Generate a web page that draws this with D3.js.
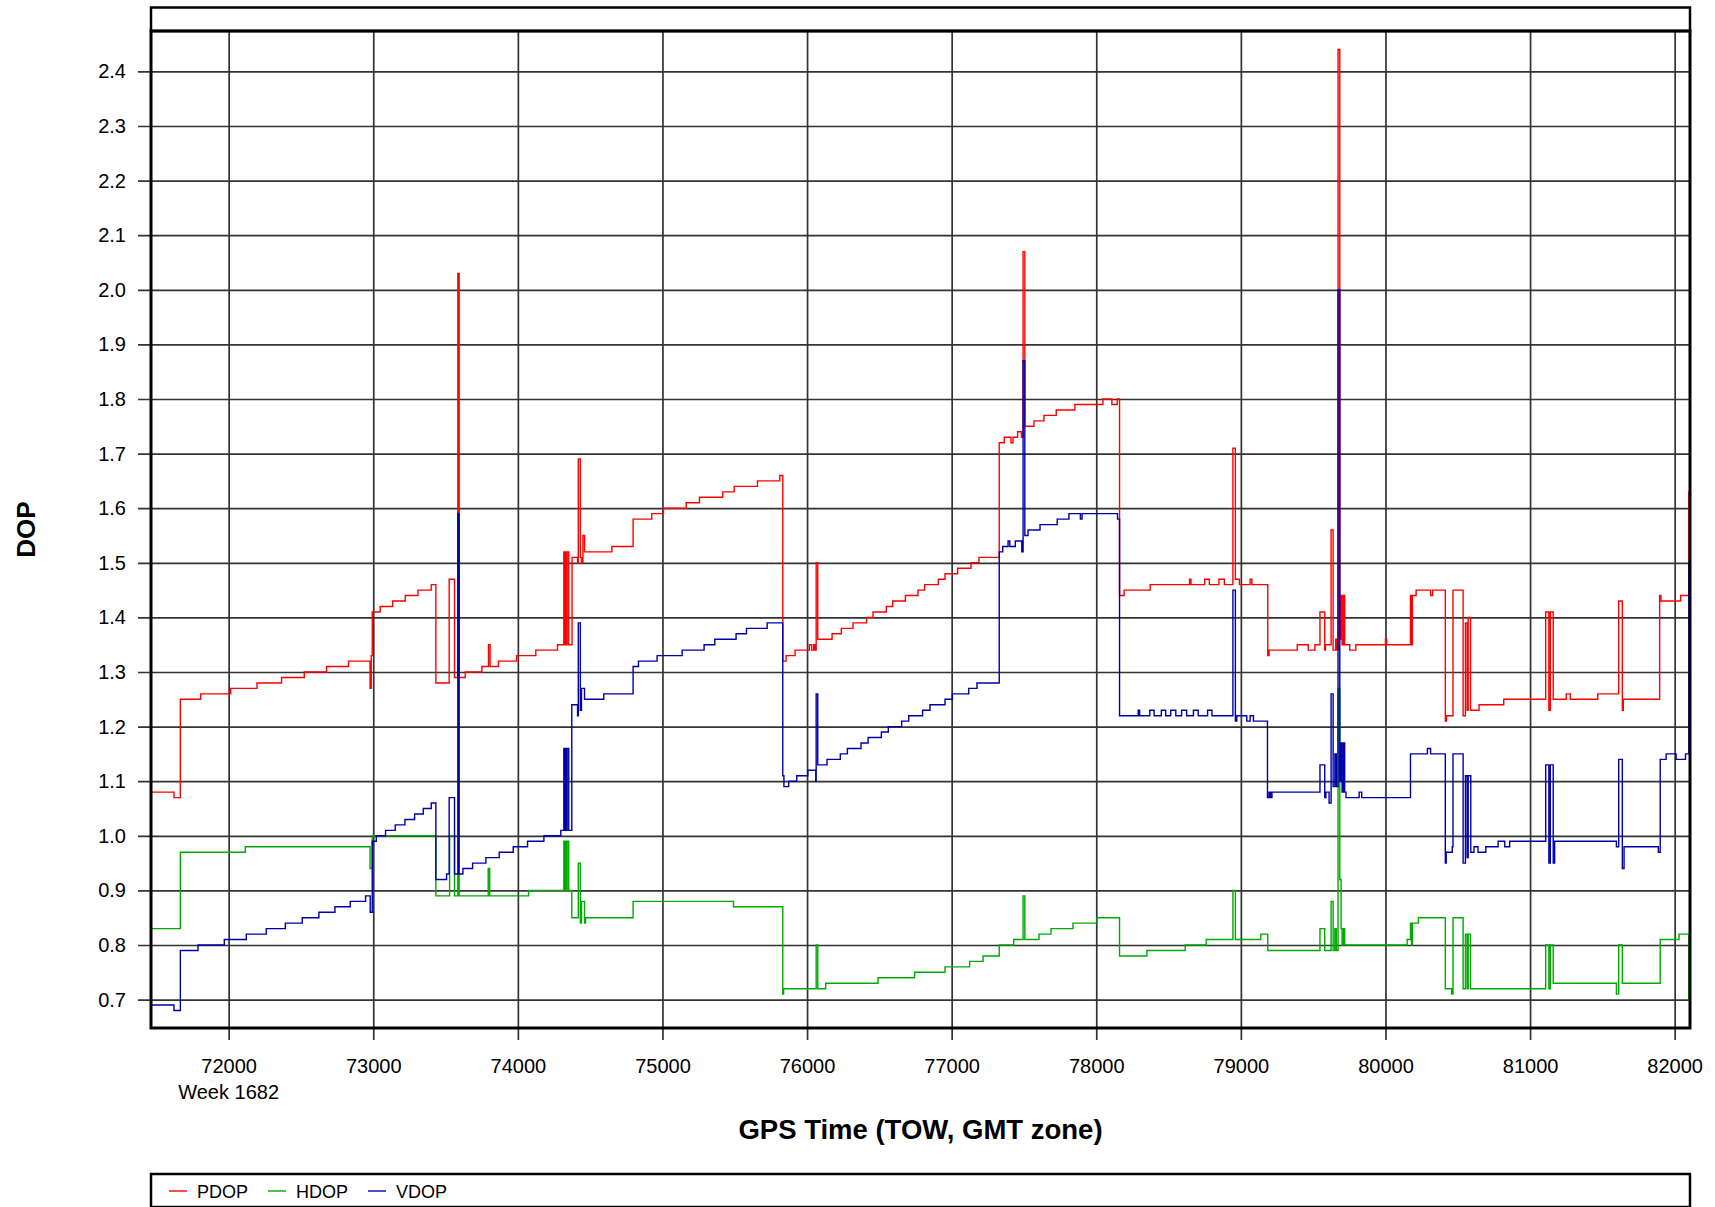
<!DOCTYPE html>
<html><head><meta charset="utf-8">
<script src="https://cdn.jsdelivr.net/npm/d3@7"></script>
<style>
html,body{margin:0;padding:0;background:#fff;}
svg{display:block;font-family:"Liberation Sans",Arial,sans-serif;}
</style></head>
<body><svg id="chart" width="1715" height="1207"></svg>
<script>
// ---- data (GPS TOW seconds, DOP value), step-after series ----
const pdop = [[71463,1.08],[71622,1.07],[71666,1.25],[71806,1.26],[72014,1.27],[72196,1.28],[72366,1.29],[72523,1.30],[72677,1.31],[72829,1.32],[72978,1.27],[72986,1.33],[72993,1.41],[73048,1.42],[73134,1.43],[73221,1.44],[73309,1.45],[73401,1.46],[73433,1.28],[73525,1.47],[73562,1.29],[73585,2.03],[73594,1.29],[73636,1.30],[73751,1.31],[73797,1.35],[73808,1.31],[73866,1.32],[73991,1.33],[74124,1.34],[74274,1.35],[74318,1.52],[74323,1.35],[74330,1.52],[74335,1.35],[74341,1.52],[74352,1.35],[74375,1.51],[74413,1.50],[74418,1.69],[74432,1.51],[74440,1.50],[74450,1.55],[74461,1.52],[74650,1.53],[74797,1.58],[74926,1.59],[75007,1.60],[75164,1.61],[75256,1.62],[75417,1.63],[75496,1.64],[75657,1.65],[75811,1.66],[75832,1.32],[75855,1.33],[75917,1.34],[76016,1.35],[76032,1.34],[76046,1.35],[76055,1.34],[76063,1.50],[76074,1.36],[76173,1.37],[76237,1.38],[76318,1.39],[76412,1.40],[76456,1.41],[76548,1.42],[76592,1.43],[76680,1.44],[76767,1.45],[76813,1.46],[76908,1.47],[76954,1.48],[77041,1.49],[77134,1.50],[77189,1.51],[77329,1.72],[77364,1.73],[77410,1.72],[77424,1.73],[77456,1.74],[77483,1.73],[77494,2.07],[77506,1.75],[77569,1.76],[77638,1.77],[77723,1.78],[77852,1.79],[78046,1.80],[78108,1.79],[78145,1.80],[78161,1.44],[78193,1.45],[78373,1.46],[78645,1.47],[78655,1.46],[78750,1.47],[78782,1.46],[78848,1.47],[78886,1.46],[78945,1.71],[78962,1.47],[78990,1.46],[79064,1.47],[79076,1.46],[79186,1.33],[79195,1.34],[79390,1.35],[79466,1.34],[79512,1.35],[79547,1.41],[79580,1.34],[79585,1.35],[79624,1.56],[79638,1.34],[79656,1.36],[79665,1.34],[79672,2.44],[79684,1.36],[79693,1.44],[79700,1.35],[79710,1.44],[79718,1.35],[79753,1.34],[79795,1.35],[80000,1.36],[80008,1.35],[80173,1.44],[80177,1.35],[80186,1.44],[80212,1.45],[80312,1.44],[80326,1.45],[80414,1.21],[80422,1.22],[80467,1.45],[80537,1.22],[80553,1.39],[80565,1.23],[80572,1.40],[80588,1.23],[80647,1.24],[80818,1.25],[81108,1.41],[81130,1.23],[81140,1.41],[81160,1.25],[81250,1.26],[81278,1.25],[81468,1.26],[81613,1.43],[81638,1.23],[81645,1.25],[81896,1.44],[81905,1.43],[82041,1.44],[82098,1.63]];

const hdop = [[71463,0.83],[71666,0.97],[72115,0.98],[72978,0.94],[72993,1.00],[73433,0.89],[73528,1.00],[73562,0.89],[73585,0.93],[73594,0.89],[73795,0.94],[73805,0.89],[74074,0.90],[74318,0.99],[74323,0.90],[74330,0.99],[74335,0.90],[74341,0.99],[74352,0.90],[74373,0.85],[74418,0.95],[74432,0.84],[74440,0.88],[74461,0.84],[74468,0.85],[74797,0.88],[75491,0.87],[75832,0.71],[75838,0.72],[76063,0.80],[76074,0.72],[76129,0.73],[76491,0.74],[76744,0.75],[76954,0.76],[77124,0.77],[77217,0.78],[77329,0.80],[77429,0.81],[77494,0.89],[77506,0.81],[77604,0.82],[77687,0.83],[77839,0.84],[78005,0.85],[78161,0.78],[78350,0.79],[78615,0.80],[78760,0.81],[78945,0.90],[78962,0.81],[79138,0.82],[79186,0.79],[79547,0.83],[79580,0.79],[79624,0.88],[79638,0.79],[79650,0.83],[79660,0.79],[79672,1.27],[79684,0.92],[79693,0.83],[79700,0.80],[79710,0.83],[79718,0.80],[80150,0.81],[80173,0.84],[80180,0.80],[80186,0.84],[80228,0.85],[80414,0.72],[80458,0.71],[80467,0.85],[80537,0.72],[80553,0.82],[80565,0.72],[80572,0.82],[80588,0.72],[81108,0.80],[81130,0.72],[81140,0.80],[81160,0.73],[81597,0.71],[81613,0.80],[81638,0.73],[81900,0.81],[82030,0.82],[82098,0.70]];

const vdop = [[71463,0.69],[71622,0.68],[71666,0.79],[71788,0.80],[71970,0.81],[72122,0.82],[72260,0.83],[72392,0.84],[72509,0.85],[72624,0.86],[72735,0.87],[72841,0.88],[72947,0.89],[72979,0.86],[72993,0.99],[73021,1.00],[73085,1.01],[73152,1.02],[73219,1.03],[73286,1.04],[73346,1.05],[73401,1.06],[73433,0.92],[73507,0.93],[73525,1.07],[73562,0.93],[73585,1.59],[73594,0.93],[73620,0.94],[73687,0.95],[73779,0.96],[73871,0.97],[73968,0.98],[74067,0.99],[74180,1.00],[74297,1.01],[74318,1.16],[74323,1.01],[74330,1.16],[74335,1.01],[74341,1.16],[74352,1.01],[74373,1.24],[74413,1.22],[74418,1.39],[74432,1.23],[74440,1.27],[74461,1.25],[74594,1.26],[74797,1.31],[74834,1.32],[74963,1.33],[75136,1.34],[75288,1.35],[75362,1.36],[75509,1.37],[75581,1.38],[75724,1.39],[75832,1.11],[75840,1.09],[75873,1.10],[75929,1.11],[76005,1.12],[76060,1.10],[76063,1.26],[76074,1.13],[76138,1.14],[76230,1.15],[76279,1.16],[76373,1.17],[76422,1.18],[76514,1.19],[76562,1.20],[76654,1.21],[76703,1.22],[76799,1.23],[76850,1.24],[76954,1.25],[77005,1.26],[77118,1.27],[77175,1.28],[77329,1.52],[77353,1.53],[77390,1.54],[77402,1.53],[77440,1.54],[77485,1.52],[77494,1.87],[77506,1.55],[77528,1.56],[77611,1.57],[77730,1.58],[77811,1.59],[77890,1.58],[77902,1.59],[78147,1.58],[78161,1.22],[78290,1.23],[78300,1.22],[78370,1.23],[78400,1.22],[78450,1.23],[78480,1.22],[78515,1.23],[78550,1.22],[78590,1.23],[78625,1.22],[78672,1.23],[78705,1.22],[78770,1.23],[78800,1.22],[78945,1.45],[78962,1.21],[78972,1.22],[79041,1.21],[79064,1.22],[79087,1.21],[79184,1.07],[79195,1.08],[79205,1.07],[79215,1.08],[79547,1.13],[79580,1.07],[79588,1.08],[79610,1.06],[79624,1.26],[79638,1.09],[79650,1.15],[79660,1.09],[79672,2.00],[79684,1.10],[79693,1.17],[79700,1.08],[79710,1.17],[79718,1.08],[79727,1.07],[79818,1.08],[79836,1.07],[80173,1.15],[80290,1.16],[80312,1.15],[80414,0.95],[80420,0.97],[80462,0.98],[80467,1.15],[80537,0.95],[80553,1.11],[80565,0.96],[80572,1.11],[80590,0.97],[80612,0.98],[80640,0.97],[80694,0.98],[80779,0.99],[80825,0.98],[80859,0.99],[81108,1.13],[81130,0.95],[81140,1.13],[81160,0.95],[81170,0.99],[81597,0.98],[81613,1.14],[81638,0.94],[81650,0.98],[81887,0.97],[81900,1.14],[81941,1.15],[82010,1.14],[82075,1.15],[82098,1.50]];

const xTicks = [72000,73000,74000,75000,76000,77000,78000,79000,80000,81000,82000];
const yTicks = [0.7,0.8,0.9,1.0,1.1,1.2,1.3,1.4,1.5,1.6,1.7,1.8,1.9,2.0,2.1,2.2,2.3,2.4];
const seriesNames = ["PDOP","HDOP","VDOP"];
const seriesColors = ["#ff0000","#00aa00","#0000aa"];
const weekLabel = "Week 1682";
const xTitle = "GPS Time (TOW, GMT zone)";
const yTitle = "DOP";

// ---- layout ----
const L = 151, R = 1690, T = 31, B = 1028;
const gridColor = "#333", gridW = 1.7;
const svg = d3.select("#chart");
const x = d3.scaleLinear().domain([71463, 82106]).range([L, R]);
const y = d3.scaleLinear().domain([0.648, 2.474]).range([B, T]);

// header box
svg.append("rect").attr("x", L).attr("y", 7.5).attr("width", R - L).attr("height", T - 7.5)
  .attr("fill", "none").attr("stroke", "#000").attr("stroke-width", 2.5);

// y axis: gridlines extending 13px left of the frame, labels right-aligned
const yAxis = d3.axisLeft(y).tickValues(yTicks).tickSize(13).tickPadding(12)
  .tickFormat(d3.format(".1f"));
const gy = svg.append("g").attr("transform", `translate(${L},0)`).call(yAxis);
gy.select(".domain").remove();
gy.selectAll(".tick line").attr("stroke", gridColor).attr("stroke-width", gridW)
  .attr("x1", R - L).attr("x2", -13);
gy.selectAll(".tick text").attr("x", -25).attr("font-size", 20)
  .attr("font-family", "Liberation Sans, Arial, sans-serif").attr("fill", "#000");

// x axis: gridlines extending 12px below the frame
const xAxis = d3.axisBottom(x).tickValues(xTicks).tickSize(12).tickFormat(d3.format("d"));
const gx = svg.append("g").attr("transform", `translate(0,${B})`).call(xAxis);
gx.select(".domain").remove();
gx.selectAll(".tick line").attr("stroke", gridColor).attr("stroke-width", gridW)
  .attr("y1", -(B - T)).attr("y2", 12);
gx.selectAll(".tick text").attr("y", 45).attr("dy", 0).attr("font-size", 20)
  .attr("font-family", "Liberation Sans, Arial, sans-serif").attr("fill", "#000");

svg.append("text").attr("x", x(72000)).attr("y", B + 71).attr("text-anchor", "middle")
  .attr("font-size", 20).text(weekLabel);

// clip
svg.append("clipPath").attr("id", "clip").append("rect")
  .attr("x", L).attr("y", T).attr("width", R - L).attr("height", B - T);

const line = d3.line().x(d => x(d[0])).y(d => y(d[1])).curve(d3.curveStepAfter);
const allSeries = [pdop, hdop, vdop];
const gl = svg.append("g").attr("clip-path", "url(#clip)");
allSeries.forEach((s, i) => {
  const pts = s.concat([[x.domain()[1], s[s.length - 1][1]]]);
  gl.append("path").datum(pts).attr("d", line).attr("fill", "none")
    .attr("stroke", seriesColors[i]).attr("stroke-width", 1.4);
});

// plot frame
svg.append("rect").attr("x", L).attr("y", T).attr("width", R - L).attr("height", B - T)
  .attr("fill", "none").attr("stroke", "#000").attr("stroke-width", 3);

// titles
svg.append("text").attr("x", (L + R) / 2).attr("y", 1139).attr("text-anchor", "middle")
  .attr("font-size", 27.5).attr("font-weight", "bold").text(xTitle);
svg.append("text").attr("transform", `translate(35,${(T + B) / 2}) rotate(-90)`)
  .attr("text-anchor", "middle").attr("font-size", 26).attr("font-weight", "bold").text(yTitle);

// legend
svg.append("rect").attr("x", L).attr("y", 1174).attr("width", R - L).attr("height", 33)
  .attr("fill", "none").attr("stroke", "#000").attr("stroke-width", 2.5);
const lx = [169, 268, 368];
seriesNames.forEach((n, i) => {
  svg.append("line").attr("x1", lx[i]).attr("x2", lx[i] + 18).attr("y1", 1191).attr("y2", 1191)
    .attr("stroke", seriesColors[i]).attr("stroke-width", 1.4);
  svg.append("text").attr("x", lx[i] + 28).attr("y", 1197.5).attr("font-size", 18).text(n);
});
</script></body></html>
